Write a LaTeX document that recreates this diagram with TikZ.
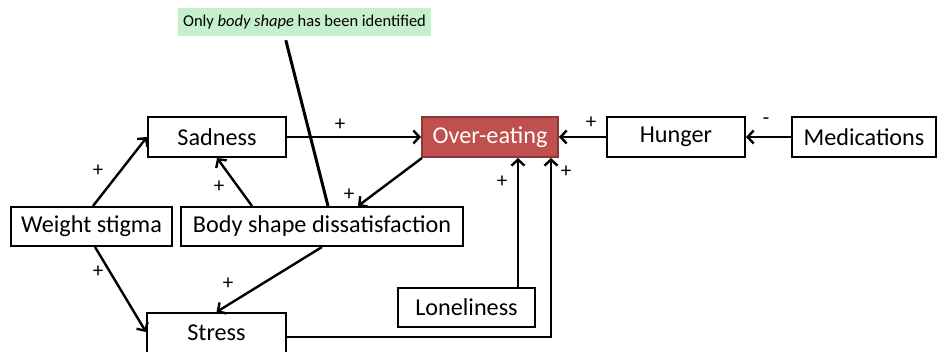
\documentclass[tikz,border=0pt]{standalone}
\usepackage{fontspec}
\setmainfont{Carlito}
\usetikzlibrary{arrows.meta,calc}
\definecolor{notegreen}{RGB}{198,239,206}
\definecolor{overfill}{RGB}{192,80,77}
\definecolor{overline}{RGB}{140,56,54}
\begin{document}
\begin{tikzpicture}[x=1pt,y=-1pt,
  box/.style={draw=black,line width=2pt,fill=white,inner sep=0pt,
    font=\fontsize{24.2}{26}\selectfont,minimum height=40pt},
  hot/.style={box,draw=overline,fill=overfill,text=white},
  conn/.style={line width=2.4pt,-{Straight Barb[length=6pt,width=13pt,line width=2.4pt]}},
  sign/.style={font=\fontsize{21}{22}\selectfont,inner sep=0pt},
  note/.style={fill=notegreen,inner sep=0pt,minimum width=253pt,minimum height=28pt,
    font=\fontsize{16.5}{18}\selectfont}]
\useasboundingbox (0,0) rectangle (938,352);

% boxes
\node[note] (note) at (304.5,22) {Only \textit{body shape} has been identified};
\node[box,minimum width=138pt] (sad) at (217,137) {Sadness};
\node[hot,minimum width=136pt] (over) at (490,137) {Over-eating};
\node[box,minimum width=138pt] (hun) at (676,137) {Hunger};
\node[box,minimum width=144pt] (med) at (864,137) {Medications};
\node[box,minimum width=161pt,minimum height=39pt] (ws) at (91.5,226.5) {Weight stigma};
\node[box,minimum width=282pt,minimum height=39pt] (bsd) at (322,226.5) {Body shape dissatisfaction};
\node[box,minimum width=139pt] (str) at (216.5,333) {Stress};
\node[box,minimum width=137pt,minimum height=39pt] (lon) at (466.5,307.5) {Loneliness};

% pointer from the note to the body shape box
\draw[line width=3pt] ($(note.south west)+(108,4)$) -- ($(bsd.north)+(6,0)$);

% causal links
\draw[conn] (sad.east) -- (over.west);
\draw[conn] (hun.west) -- (over.east);
\draw[conn] (med.west) -- (hun.east);
\draw[conn] ($(ws.north)+(1.5,0)$) -- (sad.west);
\draw[conn] ($(bsd.north west)+(72,0)$) -- (sad.south);
\draw[conn] ($(over.south west)+(1,0)$) -- ($(bsd.north)+(36,0)$);
\draw[conn] ($(ws.south)+(3.5,0)$) -- ($(str.west)+(0,-1)$);
\draw[conn] (bsd.south) -- (str.north);
\draw[conn] ($(lon.north)+(51.5,0)$) -- ($(over.south)+(28,0)$);
\draw[conn] ($(str.east)+(0,4)$) -| ($(over.south)+(61,0)$);

% polarity signs
\node[sign] (s1) at (340,125) {+};
\node[sign] (s2) at (591,123) {+};
\node[sign] (s3) at (766,121) {-};
\node[sign] (s4) at (98,171) {+};
\node[sign] (s5) at (219,187) {+};
\node[sign] (s6) at (349,195) {+};
\node[sign] (s7) at (98,272) {+};
\node[sign] (s8) at (228,284) {+};
\node[sign] (s9) at (502,182) {+};
\node[sign] (s10) at (566,172) {+};
\end{tikzpicture}
\end{document}
